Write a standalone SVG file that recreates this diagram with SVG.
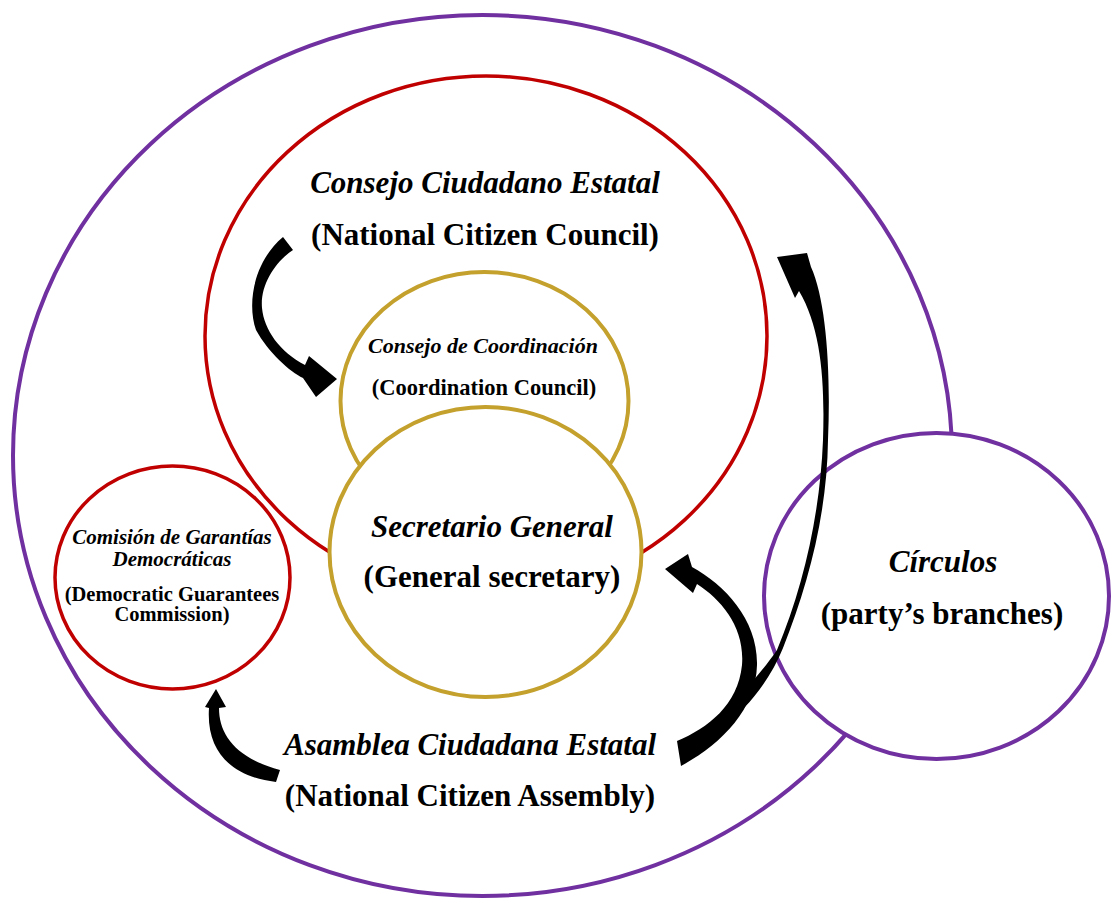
<svg xmlns="http://www.w3.org/2000/svg" width="1112" height="898" viewBox="0 0 1112 898">
<style>
.purple{fill:#fff;stroke:#7030A0;stroke-width:4}
.red{fill:none;stroke:#C00000;stroke-width:3.5}
.redf{fill:#fff;stroke:#C00000;stroke-width:3.5}
.gold{fill:#fff;stroke:#C4A02C;stroke-width:4}
text{font-family:"Liberation Serif","Times New Roman",serif;fill:#000;text-anchor:middle}
.it{font-style:italic;font-weight:bold}
.b{font-weight:bold}
.arrow{fill:#000}
</style>
<rect width="1112" height="898" fill="#fff"/>
<g id="asamblea">
<ellipse cx="482.5" cy="455.5" rx="469.5" ry="440.5" class="purple"/>
<text x="470" y="755" class="it" font-size="31">Asamblea Ciudadana Estatal</text>
<text x="470" y="806" class="b" font-size="31">(National Citizen Assembly)</text>
</g>
<g id="consejo-ciudadano">
<ellipse cx="486" cy="336" rx="281" ry="260" class="red"/>
<text x="485" y="193" class="it" font-size="31">Consejo Ciudadano Estatal</text>
<text x="485" y="245" class="b" font-size="31">(National Citizen Council)</text>
</g>
<g id="consejo-coordinacion">
<ellipse cx="484.5" cy="401" rx="144" ry="129" class="gold"/>
<text x="483" y="353" class="it" font-size="22">Consejo de Coordinación</text>
<text x="484" y="395" class="b" font-size="22.5">(Coordination Council)</text>
</g>
<g id="secretario">
<ellipse cx="485.5" cy="552" rx="156" ry="145" class="gold"/>
<text x="492" y="537" class="it" font-size="31">Secretario General</text>
<text x="492" y="587" class="b" font-size="31">(General secretary)</text>
</g>
<g id="comision">
<ellipse cx="172.5" cy="577.5" rx="117.5" ry="111.5" class="redf"/>
<text x="172" y="544" class="it" font-size="21">Comisión de Garantías</text>
<text x="172" y="566" class="it" font-size="21">Democráticas</text>
<text x="172" y="601" class="b" font-size="20.5">(Democratic Guarantees</text>
<text x="172" y="621" class="b" font-size="20.5">Commission)</text>
</g>
<g id="circulos">
<ellipse cx="936.5" cy="596" rx="172.5" ry="163" class="purple"/>
<text x="943" y="572" class="it" font-size="31">Círculos</text>
<text x="942" y="624" class="b" font-size="31">(party’s branches)</text>
</g>
<g id="connectors">
<path id="arrow-consejo-coordinacion" class="arrow" d="M283 237 L293 250 C275 262 260 285 262 308 C264 330 280 352 305 365 L309 356 L337 379 L316 397 L303 378 C290 372 268 352 256 330 C247 305 253 262 283 237 Z"/>
<path id="arrow-asamblea-secretario" class="arrow" d="M665 569 L688 554 L692 567 C725 585 758 620 757 665 C756 710 720 745 681 766 L677 741 C708 728 738 705 742 665 C745 628 722 600 697 584 L693 593 Z"/>
<path id="arrow-asamblea-consejo" class="arrow" d="M777 257 L807 253 L811 267 C826 300 831 370 828 440 C827 515 808 585 783 648 C770 680 748 708 720 730 L712 722 C740 697 762 672 777 650 C803 588 820 515 823 440 C825 380 821 328 799 291 L795 298 Z"/>
<path id="arrow-asamblea-comision" class="arrow" d="M216 689 L226 707 L219 708 C219 735 236 758 280 770 L276 782 C232 777 206 752 209 708 L205 707 Z"/>
</g>
</svg>
